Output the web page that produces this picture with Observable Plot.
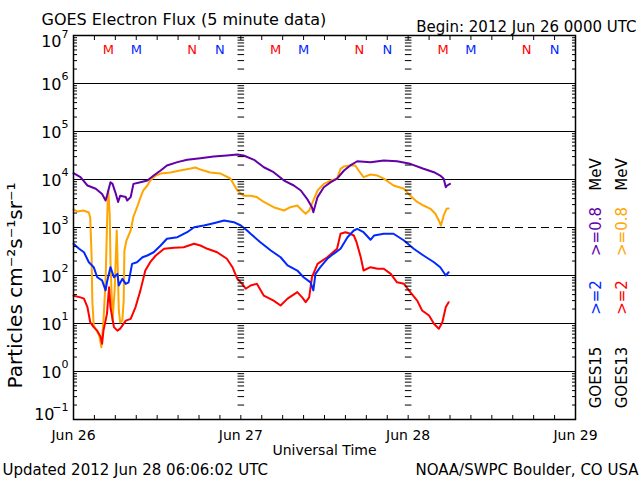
<!DOCTYPE html>
<html>
<head>
<meta charset="utf-8">
<script src="https://cdn.jsdelivr.net/npm/d3@7"></script>
<script src="https://cdn.jsdelivr.net/npm/@observablehq/plot@0.6"></script>
<style>
  html, body { margin: 0; padding: 0; background: #fff; }
  #chart svg { display: block; }
</style>
</head>
<body>
<div id="chart"></div>
<script>
// ---------- DATA ----------
const startDay = "2012-06-26T00:00:00Z";

// GOES15 >=0.8 MeV (purple) : hours since start, flux
const g15LowHours = [0.0,1.0,2.0,3.2,4.1,4.6,4.8,5.3,5.6,6.0,6.4,6.7,7.5,7.7,8.2,8.4,8.6,9.6,10.6,11.5,12.5,13.4,14.9,16.3,18.2,20.1,22.0,23.5,24.4,25.9,27.3,28.7,30.2,31.6,32.6,33.5,34.2,34.4,35.0,35.9,36.9,37.8,38.8,39.7,40.7,42.6,44.5,46.4,48.3,50.2,51.7,52.6,53.1,53.4,53.6,54.0];
const g15LowFlux = [1.35e4,1.12e4,7.5e3,6.4e3,5.0e3,3.65e3,4.6e3,8.8e3,8.1e3,5.4e3,3.4e3,4.6e3,4.3e3,3.65e3,4.3e3,5.9e3,8.1e3,8.8e3,9.5e3,1.21e4,1.54e4,1.96e4,2.3e4,2.57e4,2.78e4,3.0e4,3.16e4,3.3e4,3.16e4,2.57e4,1.8e4,1.42e4,9.5e3,7.5e3,5.9e3,3.96e3,2.65e3,2.08e3,4.3e3,6.9e3,8.8e3,1.04e4,1.54e4,1.96e4,2.4e4,2.3e4,2.5e4,2.4e4,2.12e4,1.67e4,1.42e4,1.21e4,1.04e4,6.9e3,7.5e3,8.1e3];

// GOES13 >=0.8 MeV (orange)
const g13LowHours = [0.0,0.6,1.4,2.2,2.4,2.6,2.7,2.9,3.3,3.7,4.0,4.3,4.6,4.9,5.0,5.2,5.3,5.5,5.6,5.9,6.2,6.3,6.5,6.7,7.0,7.2,7.3,7.6,7.9,8.2,8.6,9.2,9.6,10.0,10.6,11.0,11.8,12.5,13.9,15.3,16.8,17.5,18.2,19.6,21.1,22.5,23.5,24.4,25.4,26.3,27.3,28.7,30.2,31.1,32.1,32.8,33.3,33.8,34.2,35.0,35.9,36.9,37.8,38.3,38.8,39.7,40.4,40.9,41.6,42.6,43.6,44.5,45.9,47.4,48.3,49.3,50.2,51.2,51.9,52.4,52.7,53.1,53.5,53.8];
const g13LowFlux = [2.37e3,2.15e3,2.26e3,2.05e3,1.6e3,237,30,9.1,7.1,5.6,3.2,11.5,79,3.65e3,5.9e3,1.78e3,205,30,11.5,49,866,261,18.7,10.5,11.5,30,332,536,681,866,1.69e3,2.87e3,4.2e3,5.9e3,7.5e3,9.5e3,1.21e4,1.33e4,1.4e4,1.54e4,1.69e4,1.78e4,1.61e4,1.4e4,1.33e4,1.05e4,5.9e3,4.6e3,4.6e3,4.3e3,3.4e3,2.65e3,2.26e3,2.65e3,2.87e3,2.26e3,1.93e3,2.26e3,3.1e3,5.9e3,8.1e3,9.5e3,1.04e4,1.67e4,1.87e4,1.96e4,1.96e4,1.54e4,1.12e4,1.27e4,1.21e4,1.04e4,7.5e3,6.4e3,4.6e3,3.4e3,2.87e3,2.45e3,1.93e3,1.4e3,1.1e3,1.78e3,2.45e3,2.5e3];

// GOES15 >=2 MeV (blue)
const g15HighHours = [0.0,0.8,1.5,2.2,2.9,3.4,4.1,4.6,4.8,5.3,5.8,6.3,6.5,7.0,7.5,7.9,8.4,9.1,9.9,10.6,11.5,12.5,13.4,14.9,16.3,17.3,18.7,20.1,21.6,23.0,24.0,24.9,25.4,26.8,28.3,29.7,30.7,32.1,33.0,34.0,34.4,34.7,35.4,36.4,37.3,38.3,39.3,40.2,40.7,41.6,42.6,43.1,44.5,45.9,47.4,48.8,50.2,51.7,52.6,53.4,53.8];
const g15HighFlux = [457,360,305,189,149,92,79,49,72,149,92,108,62,85,67,72,175,189,240,261,305,422,582,628,798,1010,1100,1230,1400,1290,1100,866,740,494,332,240,162,127,92,72,49,108,149,223,283,360,628,866,940,798,555,681,740,740,536,360,261,189,149,100,117];

// GOES13 >=2 MeV (red)
const g13HighHours = [0.0,1.0,1.5,2.0,2.4,2.9,3.4,3.9,4.1,4.3,4.8,5.1,5.3,5.8,6.3,6.7,7.5,8.2,8.9,9.6,10.3,11.0,11.8,13.0,14.4,15.8,17.3,18.2,19.2,20.6,22.0,22.8,23.5,24.2,24.7,25.4,26.3,27.3,28.7,29.7,30.7,32.1,32.8,33.3,33.8,34.2,35.0,36.4,37.8,38.3,39.0,39.7,40.2,40.6,41.2,41.6,42.6,43.6,44.5,45.5,46.4,47.4,48.3,49.3,50.0,51.0,51.7,52.4,52.9,53.4,53.8];
const g13HighFlux = [38,35,33,22,10.6,8.4,7.1,5.2,3.8,7.1,15.9,57,22,8.4,7.1,7.8,11.5,12.5,22,49,127,189,261,360,378,389,457,422,360,305,223,149,85,67,53,62,67,38,30,23.7,33,45,35,27.8,35,92,175,240,360,740,798,740,681,494,240,127,149,138,138,108,72,67,45,30,18.7,14.7,9.9,7.8,10.6,22,27.8];

const seriesNames  = ["GOES13 >=0.8 MeV", "GOES15 >=0.8 MeV", "GOES13 >=2 MeV", "GOES15 >=2 MeV"];
const seriesColors = ["#ffa500", "#6400a8", "#ff0000", "#0028ff"];

// Axis decades / labels
const decadeExponents = [-1, 0, 1, 2, 3, 4, 5, 6, 7];
const exponentLabels = ["\u22121", "0", "1", "2", "3", "4", "5", "6", "7"];
const solidGridDecades = [1e0, 1e1, 1e2, 1e4, 1e5, 1e6];
const dashedGridDecades = [1e3];

const dayTickLabels = ["Jun 26", "Jun 27", "Jun 28", "Jun 29"];
const dayTickOffsets = [0, 1, 2, 3];
const columnDayOffsets = [1, 2];

// local midnight (M) / noon (N) markers
const markerHours  = [5, 9, 17, 21, 29, 33, 41, 45, 53, 57, 65, 69];
const markerLabels = ["M","M","N","N","M","M","N","N","M","M","N","N"];
const markerSats   = ["GOES13","GOES15","GOES13","GOES15","GOES13","GOES15","GOES13","GOES15","GOES13","GOES15","GOES13","GOES15"];

const titleText = "GOES Electron Flux (5 minute data)";
const beginText = "Begin: 2012 Jun 26 0000 UTC";
const xLabelText = "Universal Time";
const updatedText = "Updated 2012 Jun 28 06:06:02 UTC";
const creditText = "NOAA/SWPC Boulder, CO USA";
const yLabelText = "Particles cm\u207B\u00B2s\u207B\u00B9sr\u207B\u00B9";

// ---------- BUILD ----------
const t0 = new Date(startDay);
const HOUR = 3600e3, DAY = 24 * HOUR;
const at = h => new Date(+t0 + h * HOUR);
const rows = (hours, flux) => hours.map((h, i) => ({time: at(h), flux: flux[i]}));

const seriesData = [
  rows(g13LowHours, g13LowFlux),
  rows(g15LowHours, g15LowFlux),
  rows(g13HighHours, g13HighFlux),
  rows(g15HighHours, g15HighFlux)
];

const minorTicks = [];
for (const e of decadeExponents) {
  if (e < 7) for (let k = 2; k <= 9; k++) minorTicks.push(k * Math.pow(10, e));
}
const allYTicks = minorTicks.concat(decadeExponents.map(e => Math.pow(10, e)));
const columnTicks = [];
for (const d of columnDayOffsets) for (const v of allYTicks) columnTicks.push({time: new Date(+t0 + d * DAY), value: v});

const threeHourTicks = d3.utcHour.every(3).range(t0, new Date(+t0 + 3 * DAY + 1));
const days = dayTickOffsets.map((d, i) => ({time: new Date(+t0 + d * DAY), label: dayTickLabels[i]}));
const decades = decadeExponents.map((e, i) => ({value: Math.pow(10, e), exp: exponentLabels[i], e}));
const markers = markerHours.map((h, i) => ({time: at(h), label: markerLabels[i], sat: markerSats[i]}));
const satColor = {GOES13: "#ff0000", GOES15: "#0028ff"};

const hTick = {draw(ctx, size) { const r = Math.sqrt(size / Math.PI); ctx.moveTo(-r, 0); ctx.lineTo(r, 0); }};
const font = "DejaVu Sans";
const blank = () => "";

const legendCols = [
  {dx: 21, items: [["GOES15", "black", 150], [">=2", seriesColors[3], 70], [">=0.8", seriesColors[1], 4], ["MeV", "black", -53]]},
  {dx: 47, items: [["GOES13", "black", 150], [">=2", seriesColors[2], 70], [">=0.8", seriesColors[0], 4], ["MeV", "black", -53]]}
];

const marks = [
  Plot.ruleY(solidGridDecades, {stroke: "black", strokeWidth: 1.2}),
  Plot.ruleY(dashedGridDecades, {stroke: "black", strokeWidth: 1.2, strokeDasharray: "8,5"}),
  ...seriesData.map((d, i) => Plot.line(d, {x: "time", y: "flux", stroke: seriesColors[i], strokeWidth: 2})),
  Plot.dot(columnTicks, {x: "time", y: "value", symbol: hTick, r: 3.3, stroke: "black", strokeWidth: 1}),
  Plot.axisY(allYTicks, {anchor: "left", tickSize: -4, tickFormat: blank, label: null}),
  Plot.axisY(allYTicks, {anchor: "right", tickSize: -4, tickFormat: blank, label: null}),
  Plot.axisX(threeHourTicks, {anchor: "bottom", tickSize: -4, tickFormat: blank, label: null}),
  Plot.axisX(threeHourTicks, {anchor: "top", tickSize: -4, tickFormat: blank, label: null}),
  Plot.frame({stroke: "black", strokeWidth: 1.5}),
  // y tick labels: "10" + exponent
  Plot.text(decades.filter(d => d.e > -1 && d.e < 7), {y: "value", text: () => "10", frameAnchor: "left", textAnchor: "end", dx: -12, dy: 1, fontSize: 16, fill: "black"}),
  Plot.text(decades.filter(d => d.e > -1 && d.e < 7), {y: "value", text: "exp", frameAnchor: "left", textAnchor: "end", dx: -5, dy: -7, fontSize: 11, fill: "black"}),
  Plot.text(decades.filter(d => d.e === 7), {y: "value", text: () => "10", frameAnchor: "left", textAnchor: "end", dx: -12, dy: 6, fontSize: 16, fill: "black"}),
  Plot.text(decades.filter(d => d.e === 7), {y: "value", text: "exp", frameAnchor: "left", textAnchor: "end", dx: -5, dy: -1, fontSize: 11, fill: "black"}),
  Plot.text(decades.filter(d => d.e === -1), {y: "value", text: () => "10", frameAnchor: "left", textAnchor: "end", dx: -19, dy: -5, fontSize: 16, fill: "black"}),
  Plot.text(decades.filter(d => d.e === -1), {y: "value", text: "exp", frameAnchor: "left", textAnchor: "end", dx: -5, dy: -12, fontSize: 11, fill: "black"}),
  // x day labels
  Plot.text(days, {x: "time", text: "label", frameAnchor: "bottom", textAnchor: "middle", lineAnchor: "bottom", dy: 20, fontSize: 14, fill: "black"}),
  Plot.text([xLabelText], {frameAnchor: "bottom", textAnchor: "middle", lineAnchor: "bottom", dy: 35, fontSize: 14, fill: "black"}),
  Plot.text([updatedText], {frameAnchor: "bottom-left", textAnchor: "start", lineAnchor: "bottom", dx: -71, dy: 55, fontSize: 15, fill: "black"}),
  Plot.text([creditText], {frameAnchor: "bottom-right", textAnchor: "end", lineAnchor: "bottom", dx: 63, dy: 55, fontSize: 15, fill: "black"}),
  Plot.text([titleText], {frameAnchor: "top-left", textAnchor: "start", lineAnchor: "bottom", dx: -32, dy: -11, fontSize: 16, fill: "black"}),
  Plot.text([beginText], {frameAnchor: "top-right", textAnchor: "end", lineAnchor: "bottom", dx: 61, dy: -4, fontSize: 15, fill: "black"}),
  Plot.text([yLabelText], {frameAnchor: "left", textAnchor: "middle", rotate: -90, dx: -58, dy: 58, fontSize: 20, fill: "black"}),
  Plot.text(markers, {x: "time", text: "label", frameAnchor: "top", textAnchor: "middle", lineAnchor: "bottom", dy: 18, fontSize: 13, fill: d => satColor[d.sat]}),
  ...legendCols.flatMap(col => col.items.map(([t, c, dy]) =>
    Plot.text([t], {frameAnchor: "right", textAnchor: "middle", rotate: -90, dx: col.dx, dy, fontSize: 15, fill: c})))
];

const chart = Plot.plot({
  width: 640,
  height: 480,
  marginLeft: 73,
  marginRight: 65,
  marginTop: 35,
  marginBottom: 61,
  x: {type: "utc", domain: [t0, new Date(+t0 + 3 * DAY)], label: null},
  y: {type: "log", domain: [0.1, 1e7], label: null},
  style: {fontFamily: font, background: "white", color: "black", overflow: "visible"},
  marks
});
document.getElementById("chart").appendChild(chart);
</script>
</body>
</html>
